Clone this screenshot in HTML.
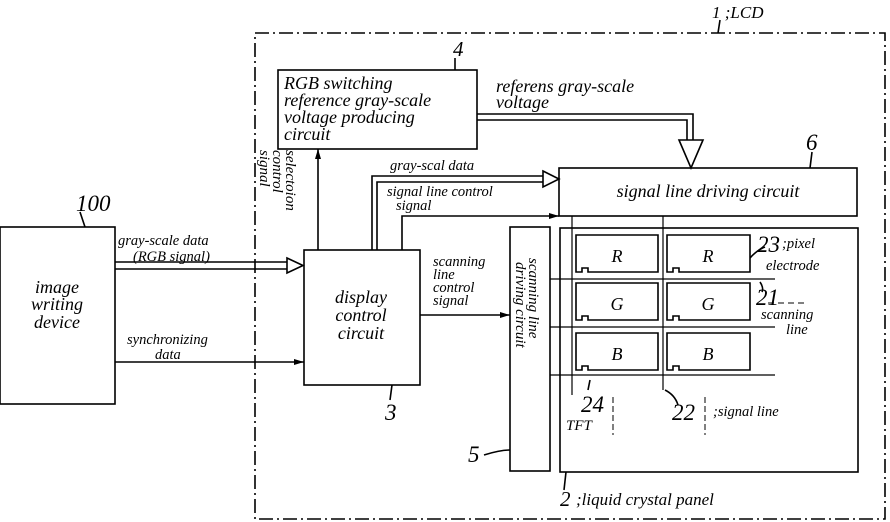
<!DOCTYPE html>
<html><head><meta charset="utf-8"><style>
html,body{margin:0;padding:0;background:#fff;}
svg{display:block;}
text{font-family:"Liberation Serif","DejaVu Serif",serif;font-style:italic;fill:#000;}
</style></head><body>
<svg width="890" height="522" viewBox="0 0 890 522" xmlns="http://www.w3.org/2000/svg">
<defs>
<marker id="a" markerWidth="10" markerHeight="8" refX="10" refY="4" orient="auto" markerUnits="userSpaceOnUse"><path d="M0,1 L10,4 L0,7 Z" fill="#000"/></marker>
</defs>
<g fill="none" stroke="#000" stroke-width="1.6">
<rect x="255" y="33" width="630" height="486" stroke-dasharray="14,4,2,4"/>
<path d="M720 20 L718 33"/>
<rect x="0" y="227" width="115" height="177"/>
<path d="M80 212 L85 227"/>
<rect x="304" y="250" width="116" height="135"/>
<path d="M392 385 L390 400"/>
<rect x="278" y="70" width="199" height="79"/>
<path d="M455 58 L455 70"/>
<rect x="559" y="168" width="298" height="48"/>
<path d="M812 152 L810 168"/>
<rect x="510" y="227" width="40" height="244"/>
<path d="M484 455 Q500 450 510 450"/>
<rect x="560" y="228" width="298" height="244"/>
<path d="M566 472 L564 490"/>
<path d="M576 235 H658 V272 H588 V268 H582 V272 H576 Z"/>
<path d="M667 235 H750 V272 H679 V268 H673 V272 H667 Z"/>
<path d="M576 283 H658 V320 H588 V316 H582 V320 H576 Z"/>
<path d="M667 283 H750 V320 H679 V316 H673 V320 H667 Z"/>
<path d="M576 333 H658 V370 H588 V366 H582 V370 H576 Z"/>
<path d="M667 333 H750 V370 H679 V366 H673 V370 H667 Z"/>
<path d="M572 216 V395 M663 216 V390" stroke-width="1.2"/>
<path d="M550 279 H775 M550 327 H775 M550 375 H775" stroke-width="1.2"/>
<path d="M750 258 Q757 250 765 247"/>
<path d="M760 282 Q764 288 762 292"/>
<path d="M590 380 L588 390"/>
<path d="M665 390 Q675 395 678 405"/>
<path d="M613 397 V435 M705 397 V435" stroke-dasharray="6,3" stroke-width="1"/>
<path d="M768 303 H806" stroke-dasharray="6,4" stroke-width="1"/>
<path d="M115 262 H287 M115 269 H287 M287 258 L303 265.5 L287 273 Z"/>
<path d="M115 362 H304" marker-end="url(#a)"/>
<path d="M420 315 H510" marker-end="url(#a)"/>
<path d="M318 250 V149" marker-end="url(#a)"/>
<path d="M372 250 V176 H543 M377 250 V182 H543 M543 171 L559 179 L543 187 Z"/>
<path d="M402 250 V216 H559" marker-end="url(#a)"/>
<path d="M477 114 H693 V140 M477 120 H687 V140 M679 140 L691 168 L703 140 Z"/>
</g>
<text x="712" y="18" font-size="17">1 ;LCD</text>
<text x="76" y="211" font-size="23">100</text>
<text x="453" y="56" font-size="21">4</text>
<text x="806" y="150" font-size="23">6</text>
<text x="385" y="420" font-size="23">3</text>
<text x="468" y="462" font-size="23">5</text>
<text x="560" y="506" font-size="21">2</text>
<text x="576" y="505" font-size="17">;liquid crystal panel</text>
<g font-size="18" text-anchor="middle">
<text x="57" y="293">image</text>
<text x="57" y="310">writing</text>
<text x="57" y="328">device</text>
<text x="361" y="303">display</text>
<text x="361" y="321">control</text>
<text x="361" y="339">circuit</text>
<text x="708" y="197">signal line driving circuit</text>
<text x="617" y="262">R</text><text x="708" y="262">R</text>
<text x="617" y="310">G</text><text x="708" y="310">G</text>
<text x="617" y="360">B</text><text x="708" y="360">B</text>
</g>
<g font-size="18">
<text x="284" y="89">RGB switching</text>
<text x="284" y="106">reference gray-scale</text>
<text x="284" y="123">voltage producing</text>
<text x="284" y="140">circuit</text>
<text x="496" y="92">referens  gray-scale</text>
<text x="496" y="108">voltage</text>
</g>
<g font-size="14.5">
<text x="118" y="245">gray-scale data</text>
<text x="133" y="261">(RGB signal)</text>
<text x="127" y="344">synchronizing</text>
<text x="155" y="359">data</text>
<text x="433" y="266">scanning</text>
<text x="433" y="279">line</text>
<text x="433" y="292">control</text>
<text x="433" y="305">signal</text>
<text x="390" y="170">gray-scal  data</text>
<text x="387" y="196">signal line control</text>
<text x="396" y="210">signal</text>
<text x="782" y="248">;pixel</text>
<text x="766" y="270">electrode</text>
<text x="761" y="319">scanning</text>
<text x="786" y="334">line</text>
<text x="713" y="416">;signal line</text>
</g>
<text x="757" y="252" font-size="23">23</text>
<text x="756" y="305" font-size="23">21</text>
<text x="672" y="420" font-size="23">22</text>
<text x="581" y="412" font-size="23">24</text>
<text x="566" y="430" font-size="15">TFT</text>
<g font-size="15">
<text transform="translate(260,150) rotate(90)">signal</text>
<text transform="translate(273,150) rotate(90)">control</text>
<text transform="translate(286,150) rotate(90)">selectoion</text>
<text transform="translate(529,258) rotate(90)">scanning  line</text>
<text transform="translate(516,262) rotate(90)">driving circuit</text>
</g>
</svg>
</body></html>
